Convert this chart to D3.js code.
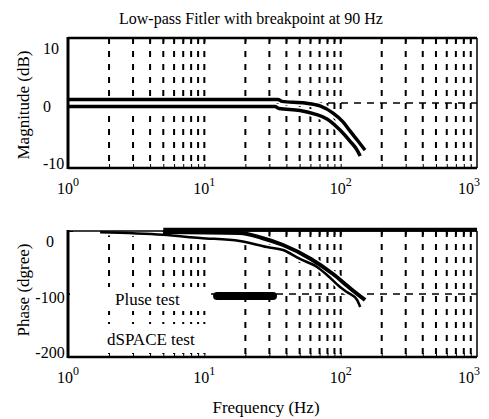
<!DOCTYPE html>
<html>
<head>
<meta charset="utf-8">
<script src="https://cdn.jsdelivr.net/npm/d3@7"></script>
<style>
	body { margin: 0; background: #fff; }
	text { font-family: "Liberation Serif", "Times New Roman", serif; fill: #000; }
</style>
</head>
<body>
<div id="area"></div>
<script>
// magnitude (dB)
var magFreqPulse = [1, 34.7, 37.1, 54.7, 70.5, 87.9, 104, 117, 134, 151];
var magPulse = [0.55, 0.55, 0.25, 0, -0.45, -1.55, -2.9, -4.3, -5.85, -7.25];
var magFreqDspace = [1, 33, 35.3, 50.3, 64.8, 79.4, 98.9, 117, 132, 139];
var magDspace = [-0.55, -0.55, -0.85, -1.15, -1.7, -2.45, -4.15, -5.85, -7.25, -8.15];

// phase (deg)
var phFreqPulse = [4.98, 18.2, 26.5, 37.8, 60.5, 87.9, 119, 151];
var phPulse = [-1.6, -3.2, -11.1, -22.2, -44.4, -68.3, -92, -109.5];
var phFreqDspace = [1.72, 4.98, 9.3, 18.2, 28.8, 37.8, 50.3, 67.1, 79.4, 98.9, 111, 132, 139];
var phDspace = [-2, -6, -11.1, -15.9, -25.4, -30.2, -44.4, -57.1, -69.8, -88.9, -96.8, -109.5, -120.6];
var phFreqTop = [5, 1000];
var phTop = [2, 2];
var legendFreq = [12.4, 31.9];
var legendPhase = [-103, -103];

var freqTicks = [1, 10, 100, 1000];
var magTicks = [-10, 0, 10];
var phaseTicks = [-200, -100, 0];
var seriesNames = ['Pluse test', 'dSPACE test'];

var svg = d3.select('#area').append('svg').attr('width', 489).attr('height', 419);

var x = d3.scaleLog().domain([1, 1000]).range([68, 477]);
var yMag = d3.scaleLinear().domain([-10, 10]).range([168, 38]);
var yPh = d3.scaleLinear().domain([-200, 0]).range([357, 231]);

var minor = [];
for (var k = 0; k < 3; k++) {
	for (var m = 1; m < 10; m++) {
		var v = m * Math.pow(10, k);
		if (v > 1) minor.push(v);
	}
}

function pairs(fs, vs) {
	return fs.map(function(f, i) { return [f, vs[i]]; });
}

function panel(y, yTicks, zeroLine, labelAnchor, labelX) {
	var top = y.range()[1], bottom = y.range()[0];
	var g = svg.append('g');

	// vertical dashed grid
	g.selectAll('.vgrid').data(minor).enter().append('line')
	.attr('class', 'vgrid')
	.attr('x1', function(d) { return x(d); })
	.attr('x2', function(d) { return x(d); })
	.attr('y1', top).attr('y2', bottom)
	.attr('stroke', '#000').attr('stroke-width', 2)
	.attr('stroke-dasharray', '6,7');

	g.append('line')
	.attr('x1', x(1)).attr('x2', x(1000))
	.attr('y1', y(zeroLine)).attr('y2', y(zeroLine))
	.attr('stroke', '#000').attr('stroke-width', 1.6)
	.attr('stroke-dasharray', '7,6');

	// ticks inside the box
	g.append('g').attr('transform', 'translate(0,' + bottom + ')')
	.call(d3.axisBottom(x).tickValues(minor).tickSize(-4).tickFormat(''))
	.call(function(a) { a.select('.domain').remove(); });
	g.append('g').attr('transform', 'translate(0,' + top + ')')
	.call(d3.axisTop(x).tickValues(minor).tickSize(-4).tickFormat(''))
	.call(function(a) { a.select('.domain').remove(); });

	var yAxis = g.append('g').attr('transform', 'translate(' + x(1) + ',0)')
	.call(d3.axisLeft(y).tickValues(yTicks).tickSize(-5).tickFormat(function(d) { return String(d); }));
	yAxis.select('.domain').remove();
	yAxis.selectAll('text')
	.attr('font-size', 16)
	.attr('text-anchor', labelAnchor)
	.attr('x', labelX)
	.attr('dy', function(d) {
		if (d == y.domain()[1]) return '0.95em';
		if (d == y.domain()[0]) return '0.05em';
		return '0.5em';
	});

	// x labels 10^k
	var xl = g.selectAll('.xl').data(freqTicks).enter().append('text')
	.attr('class', 'xl')
	.attr('x', function(d) { return x(d) + (d == 1000 ? -8 : 0); })
	.attr('y', bottom + 26)
	.attr('text-anchor', 'middle')
	.attr('font-size', 16);
	xl.append('tspan').text('10');
	xl.append('tspan').attr('dy', -8).attr('font-size', 12)
	.text(function(d) { return Math.round(Math.log10(d)); });

	return g;
}

function border(g, y, w) {
	var top = y.range()[1], bottom = y.range()[0];
	var sides = [
		[x(1), top, x(1000), top, w[0]],
		[x(1000), top, x(1000), bottom, w[1]],
		[x(1), bottom, x(1000), bottom, w[2]],
		[x(1), top - 1, x(1), bottom + 1, w[3]]
	];
	g.selectAll('.bd').data(sides).enter().append('line')
	.attr('x1', function(d) { return d[0]; })
	.attr('y1', function(d) { return d[1]; })
	.attr('x2', function(d) { return d[2]; })
	.attr('y2', function(d) { return d[3]; })
	.attr('stroke', '#000')
	.attr('stroke-width', function(d) { return d[4]; });
}

// ---------- magnitude ----------
var gm = panel(yMag, magTicks, 0, 'start', -25);
var magLine = d3.line()
	.x(function(d) { return x(d[0]); })
	.y(function(d) { return yMag(d[1]); })
	.curve(d3.curveMonotoneX);
[pairs(magFreqPulse, magPulse), pairs(magFreqDspace, magDspace)].forEach(function(s) {
	gm.append('path').attr('d', magLine(s))
	.attr('fill', 'none').attr('stroke', '#fff').attr('stroke-width', 7);
});
[pairs(magFreqPulse, magPulse), pairs(magFreqDspace, magDspace)].forEach(function(s) {
	gm.append('path').attr('d', magLine(s))
	.attr('fill', 'none').attr('stroke', '#000').attr('stroke-width', 3.5);
});
border(gm, yMag, [2.5, 1.5, 2.5, 3]);

// ---------- phase ----------
var gp = panel(yPh, phaseTicks, -100, 'middle', -18);

// white boxes behind the in-plot labels
var labelRows = gp.selectAll('.lbl').data(seriesNames).enter().append('g').attr('class', 'lbl');
labelRows.append('rect')
.attr('x', x(1) + 2)
.attr('y', function(d, i) { return i == 0 ? 287 : 324; })
.attr('width', 138)
.attr('height', function(d, i) { return i == 0 ? 24 : 29; })
.attr('fill', '#fff');
labelRows.append('text')
.attr('x', function(d, i) { return i == 0 ? 115 : 107; })
.attr('y', function(d, i) { return i == 0 ? 305 : 345; })
.attr('font-size', 17)
.text(function(d) { return d; });

var phLine = d3.line()
	.x(function(d) { return x(d[0]); })
	.y(function(d) { return yPh(d[1]); })
	.curve(d3.curveMonotoneX);

gp.append('path').attr('d', phLine(pairs(phFreqDspace, phDspace)))
.attr('fill', 'none').attr('stroke', '#fff').attr('stroke-width', 6);
gp.append('path').attr('d', phLine(pairs(phFreqPulse, phPulse)))
.attr('fill', 'none').attr('stroke', '#fff').attr('stroke-width', 7);
gp.append('path').attr('d', phLine(pairs(phFreqDspace, phDspace)))
.attr('fill', 'none').attr('stroke', '#000').attr('stroke-width', 2.5);
gp.append('path').attr('d', phLine(pairs(phFreqPulse, phPulse)))
.attr('fill', 'none').attr('stroke', '#000').attr('stroke-width', 4);

border(gp, yPh, [1.5, 1.5, 2.5, 3]);

gp.append('path').attr('d', phLine(pairs(phFreqTop, phTop)))
.attr('fill', 'none').attr('stroke', '#000').attr('stroke-width', 4);
gp.append('path').attr('d', phLine(pairs(legendFreq, legendPhase)))
.attr('fill', 'none').attr('stroke', '#000').attr('stroke-width', 8)
.attr('stroke-linecap', 'round');

// ---------- titles ----------
svg.append('text').attr('x', 251).attr('y', 24)
.attr('text-anchor', 'middle').attr('font-size', 16)
.text('Low-pass Fitler with breakpoint at 90 Hz');

svg.append('text').attr('x', 266).attr('y', 413)
.attr('text-anchor', 'middle').attr('font-size', 17)
.text('Frequency (Hz)');

svg.append('text').attr('transform', 'translate(29,105) rotate(-90)')
.attr('text-anchor', 'middle').attr('font-size', 17)
.text('Magnitude (dB)');

svg.append('text').attr('transform', 'translate(29,290) rotate(-90)')
.attr('text-anchor', 'middle').attr('font-size', 17)
.text('Phase (dgree)');
</script>
</body>
</html>
